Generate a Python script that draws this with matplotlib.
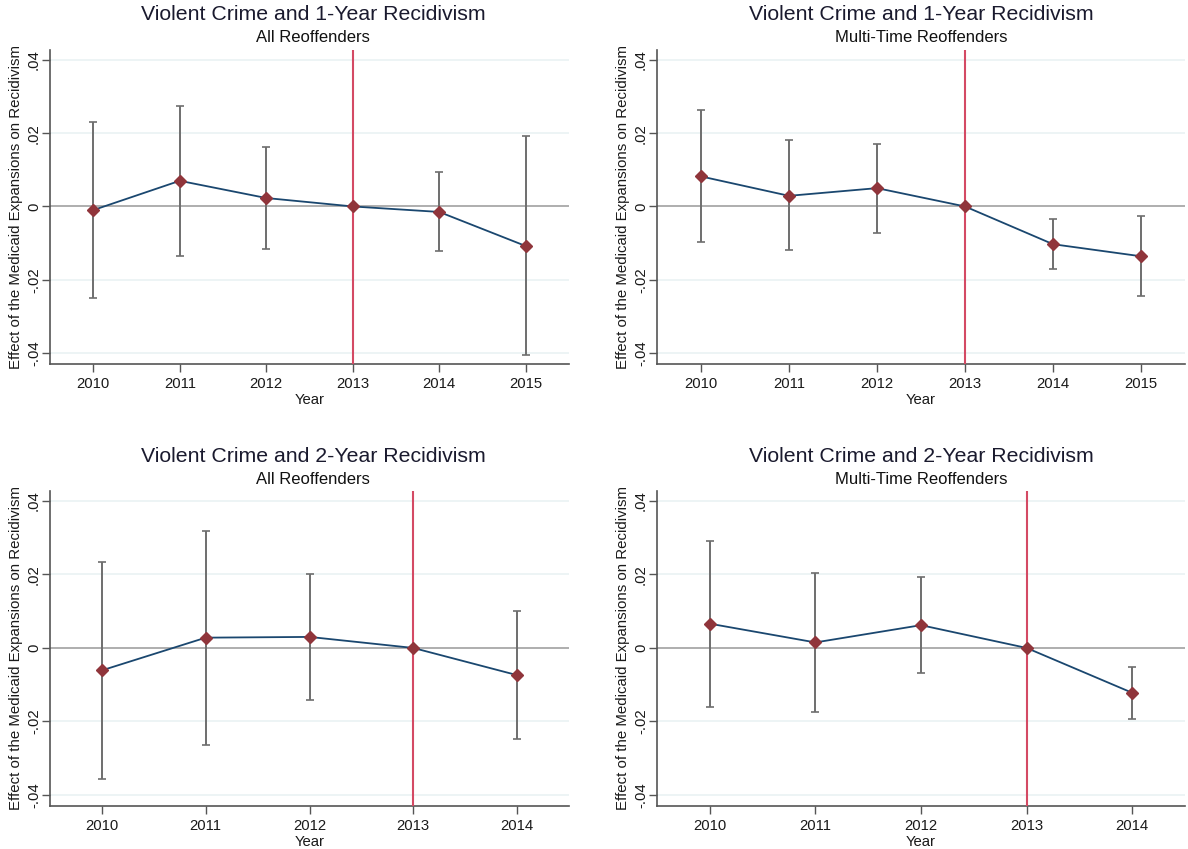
import matplotlib
matplotlib.use("Agg")
import matplotlib.pyplot as plt

plt.rcParams['font.family'] = ['Liberation Sans', 'DejaVu Sans']

# ---- data ----
years_1y = [2010, 2011, 2012, 2013, 2014, 2015]
years_2y = [2010, 2011, 2012, 2013, 2014]

# Panel A: 1-year, all reoffenders
a_est = [-0.0010, 0.0070, 0.0023, 0.0, -0.0015, -0.0108]
a_lo  = [-0.0249, -0.0136, -0.0116, None, -0.0122, -0.0405]
a_hi  = [0.0230, 0.0274, 0.0161, None, 0.0093, 0.0191]

# Panel B: 1-year, multi-time reoffenders
b_est = [0.0082, 0.0029, 0.0050, 0.0, -0.0103, -0.0136]
b_lo  = [-0.0098, -0.0120, -0.0072, None, -0.0171, -0.0245]
b_hi  = [0.0262, 0.0180, 0.0171, None, -0.0034, -0.0025]

# Panel C: 2-year, all reoffenders
c_est = [-0.0061, 0.0028, 0.0030, 0.0, -0.0074]
c_lo  = [-0.0357, -0.0263, -0.0142, None, -0.0248]
c_hi  = [0.0234, 0.0318, 0.0201, None, 0.0101]

# Panel D: 2-year, multi-time reoffenders
d_est = [0.0066, 0.0015, 0.0062, 0.0, -0.0122]
d_lo  = [-0.0161, -0.0174, -0.0068, None, -0.0192]
d_hi  = [0.0291, 0.0205, 0.0194, None, -0.0051]

titles = ["Violent Crime and 1-Year Recidivism", "Violent Crime and 1-Year Recidivism",
          "Violent Crime and 2-Year Recidivism", "Violent Crime and 2-Year Recidivism"]
subtitles = ["All Reoffenders", "Multi-Time Reoffenders", "All Reoffenders", "Multi-Time Reoffenders"]

ytick_vals = [-0.04, -0.02, 0.0, 0.02, 0.04]
ytick_labels = ["-.04", "-.02", "0", ".02", ".04"]
event_year = 2013

NAVY = "#1a476f"
MAROON = "#90353b"
RED = "#d44a64"
GRAY = "#6e6e6e"

W, H = 1188, 849
fig = plt.figure(figsize=(W / 100, H / 100), dpi=100)

# axes boxes in pixels: (left, top, right, bottom)
boxes = [(50, 50, 569, 364), (657, 50, 1185, 364),
         (50, 491, 569, 806), (657, 491, 1185, 806)]
title_cx = [313, 921, 313, 921]

panels = [(years_1y, a_est, a_lo, a_hi), (years_1y, b_est, b_lo, b_hi),
          (years_2y, c_est, c_lo, c_hi), (years_2y, d_est, d_lo, d_hi)]

for i, ((l, t, r, b), (yrs, est, lo, hi)) in enumerate(zip(boxes, panels)):
    ax = fig.add_axes([l / W, 1 - b / H, (r - l) / W, (b - t) / H])
    ax.set_xlim(yrs[0] - 0.5, yrs[-1] + 0.5)
    ax.set_ylim(-0.043, 0.0427)

    # grid lines
    for v in ytick_vals:
        if v != 0:
            ax.axhline(v, color="#eaf2f3", lw=1.2, zorder=0)
    ax.axhline(0, color="#a8a8a8", lw=1.3, zorder=1)

    # error bars
    ex, el, eh = [], [], []
    for y, e, lo_, hi_ in zip(yrs, est, lo, hi):
        if lo_ is not None:
            ex.append(y); el.append(e - lo_); eh.append(hi_ - e)
    ests = [e for y, e, lo_ in zip(yrs, est, lo) if lo_ is not None]
    ax.errorbar(ex, ests, yerr=[el, eh], fmt="none", ecolor=GRAY, elinewidth=1.4,
                capsize=2.6, capthick=1.2, zorder=2)

    ax.axvline(event_year, color=RED, lw=1.5, zorder=3)
    ax.plot(yrs, est, color=NAVY, lw=1.3, zorder=4)
    ax.plot(yrs, est, linestyle="none", marker="D", markersize=6.5,
            color=MAROON, markeredgecolor=MAROON, zorder=5)

    ax.set_xticks(yrs)
    ax.set_xticklabels([str(y) for y in yrs], fontsize=10.7, color="#1a1a1a")
    ax.set_yticks(ytick_vals)
    ax.set_yticklabels(ytick_labels, fontsize=10.7, rotation=90, va="center",
                       color="#1a1a1a")
    ax.tick_params(axis="both", direction="out", length=5.5, width=1, color="#555555")
    ax.tick_params(axis="x", pad=4)
    ax.tick_params(axis="y", pad=1)
    for sp in ["top", "right"]:
        ax.spines[sp].set_visible(False)
    for sp in ["left", "bottom"]:
        ax.spines[sp].set_color("#555555")
        ax.spines[sp].set_linewidth(1.2)

    ax.set_xlabel("Year", fontsize=10.7, labelpad=1.5, color="#1a1a1a")
    ax.set_ylabel("Effect of the Medicaid Expansions on Recidivism", fontsize=10.8,
                  labelpad=3, color="#1a1a1a")

    cx = title_cx[i] / W
    fig.text(cx, 1 - (t - 35) / H, titles[i], ha="center", va="center",
             fontsize=15.3, color="#1a1a2e")
    fig.text(cx, 1 - (t - 12) / H, subtitles[i], ha="center", va="center",
             fontsize=12, color="#111111")

fig.savefig("out.png", dpi=100)
